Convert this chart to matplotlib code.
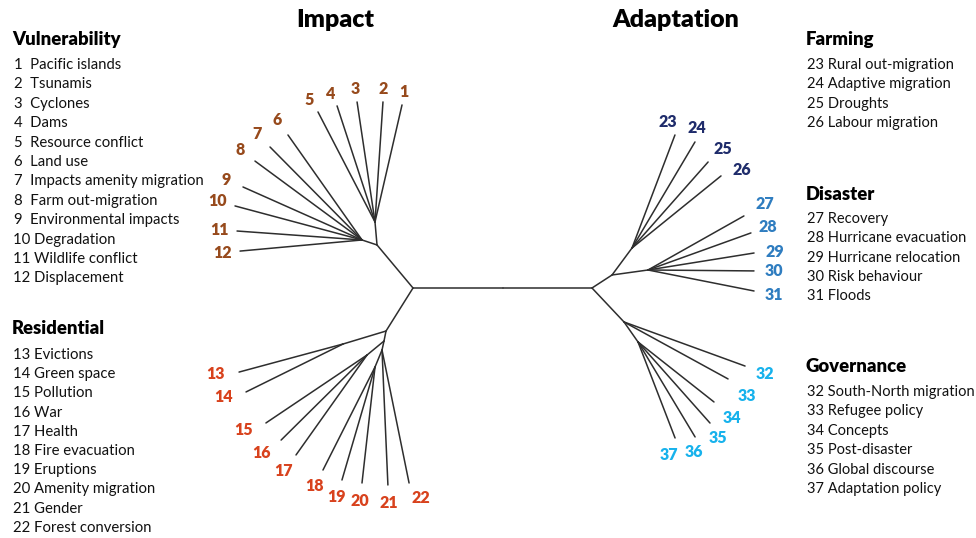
import numpy as np
import matplotlib
matplotlib.use("Agg")
import matplotlib.pyplot as plt
from matplotlib.collections import LineCollection

plt.rcParams['font.family'] = ['Lato', 'DejaVu Sans']

# ---------------- data ----------------
panel_titles = ["Impact", "Adaptation"]
group_names = ["Vulnerability", "Residential", "Farming", "Disaster", "Governance"]
group_colors = ["#974a1c", "#d8421d", "#1f2c6b", "#2f7dc0", "#17b2ec"]

terms = ["Pacific islands", "Tsunamis", "Cyclones", "Dams", "Resource conflict",
         "Land use", "Impacts amenity migration", "Farm out-migration",
         "Environmental impacts", "Degradation", "Wildlife conflict", "Displacement",
         "Evictions", "Green space", "Pollution", "War", "Health", "Fire evacuation",
         "Eruptions", "Amenity migration", "Gender", "Forest conversion",
         "Rural out-migration", "Adaptive migration", "Droughts", "Labour migration",
         "Recovery", "Hurricane evacuation", "Hurricane relocation", "Risk behaviour",
         "Floods", "South-North migration", "Refugee policy", "Concepts",
         "Post-disaster", "Global discourse", "Adaptation policy"]
leaf_group = [0]*12 + [1]*10 + [2]*4 + [3]*5 + [4]*6

# internal tree nodes: parent index, branch angle (deg), branch length
node_parent = [-1, 0, 0, 1, 3, 3, 1, 6, 6, 8, 8, 10, 2, 12, 12, 2, 15]
node_angle = [0, 180, 0, 129.9, 95.0, 161.6, 237.9, 196.8, 258.7, 219.5, 257.5,
              247.6, 33.0, 53.5, 7.9, -46.7, -55.0]
node_length = [0, 89.5, 89.5, 56.1, 23.1, 15.8, 50.8, 44.9, 10.2, 22.0, 9.2,
               18.4, 23.9, 33.6, 36.3, 46.7, 24.4]

# leaves 1..37: parent node, branch angle (deg), branch length
leaf_parent = [4, 4, 4, 4, 4, 5, 5, 5, 5, 5, 5, 5,
               7, 7, 9, 9, 9, 11, 11, 11, 10, 10,
               13, 13, 13, 13, 14, 14, 14, 14, 14,
               15, 15, 16, 16, 16, 16]
leaf_angle = [77.0, 86.2, 98.5, 108.1, 117.4, 125.2, 134.7, 143.6, 156.0, 165.0, 175.9, 185.2,
              195.1, 206.3, 213.9, 224.7, 234.6, 243.2, 253.7, 263.6, 272.5, 281.5,
              69.2, 59.3, 48.5, 39.0, 29.4, 19.8, 9.1, -0.5, -11.2,
              -20.0, -28.7, -38.3, -48.4, -59.0, -68.9]
leaf_length = [120.1, 120.3, 121.3, 122.1, 123.9, 128.5, 130.8, 133.0, 130.3, 131.5, 125.3, 122.5,
               107.7, 108.2, 121.8, 120.9, 122.6, 115.4, 117.7, 116.7, 135.1, 135.7,
               120.9, 123.3, 114.8, 114.5, 110.1, 109.4, 107.4, 106.0, 108.1,
               128.8, 118.6, 96.8, 108.4, 110.8, 102.9]

# ---------------- layout ----------------
W, H = 976, 538
ROOT = (502.5, 288)
LABEL_DIST = 18
label_nudge = {1: (-2, 5), 2: (-1, 5), 3: (1, 5), 4: (-1, 5), 5: (-1, 4),
               13: (-6, -3), 14: (-6, -3), 15: (-7, -3), 16: (-7, 0), 17: (-2, 1), 22: (8, -3),
               23: (-14, 4), 24: (-7, 2), 25: (3, 0), 26: (7, 5), 27: (5, -3),
               29: (3, 2), 30: (2, 0), 31: (2, 1),
               32: (3, 2), 33: (3, 8), 34: (4, 5), 35: (-4, 2), 36: (-10, 0), 37: (-13, 0)}

fig = plt.figure(figsize=(W/100, H/100), dpi=100)
ax = fig.add_axes([0, 0, 1, 1])
ax.set_xlim(0, W)
ax.set_ylim(H, 0)
ax.axis('off')

# compute node positions
nx = np.zeros(len(node_parent)); ny = np.zeros(len(node_parent))
segs = []
for i, p in enumerate(node_parent):
    if p < 0:
        nx[i], ny[i] = ROOT
        continue
    a = np.deg2rad(node_angle[i])
    nx[i] = nx[p] + node_length[i]*np.cos(a)
    ny[i] = ny[p] - node_length[i]*np.sin(a)
    segs.append([(nx[p], ny[p]), (nx[i], ny[i])])

leaf_xy = []
for k, p in enumerate(leaf_parent):
    a = np.deg2rad(leaf_angle[k])
    x = nx[p] + leaf_length[k]*np.cos(a)
    y = ny[p] - leaf_length[k]*np.sin(a)
    segs.append([(nx[p], ny[p]), (x, y)])
    leaf_xy.append((x, y, a))

ax.add_collection(LineCollection(segs, colors="#2e2e2e", linewidths=1.1, capstyle='round'))

for k, (x, y, a) in enumerate(leaf_xy):
    num = k + 1
    dx, dy = label_nudge.get(num, (0, 0))
    lx = x + LABEL_DIST*np.cos(a) + dx
    ly = y - LABEL_DIST*np.sin(a) + dy
    ax.text(lx, ly, str(num), color=group_colors[leaf_group[k]], fontsize=11.5,
            fontweight='heavy', ha='center', va='center')

# panel titles
ax.text(335, 20, panel_titles[0], fontsize=18, fontweight='heavy', ha='center', va='center')
ax.text(676, 20, panel_titles[1], fontsize=18, fontweight='heavy', ha='center', va='center')

# legend lists
list_layout = [  # x, title y, first item y, step, item font size
    (12, 39, 65, 19.4, 10.7),
    (12, 328, 355, 19.2, 10.7),
    (806, 40, 65, 19.4, 10.5),
    (806, 194, 219, 19.3, 10.5),
    (806, 366, 392, 19.4, 10.5),
]
for g, (x0, ty, iy, step, fs) in enumerate(list_layout):
    ax.text(x0, ty, group_names[g], fontsize=13.3, fontweight='heavy', ha='left', va='center')
    idx = [k for k in range(len(terms)) if leaf_group[k] == g]
    for j, k in enumerate(idx):
        num = k + 1
        s = f"{num}  {terms[k]}" if num < 10 else f"{num} {terms[k]}"
        ax.text(x0 + (1 if num >= 10 else 2), iy + j*step, s, fontsize=fs,
                ha='left', va='center', color="#111111")

fig.savefig("out.png", dpi=100)
